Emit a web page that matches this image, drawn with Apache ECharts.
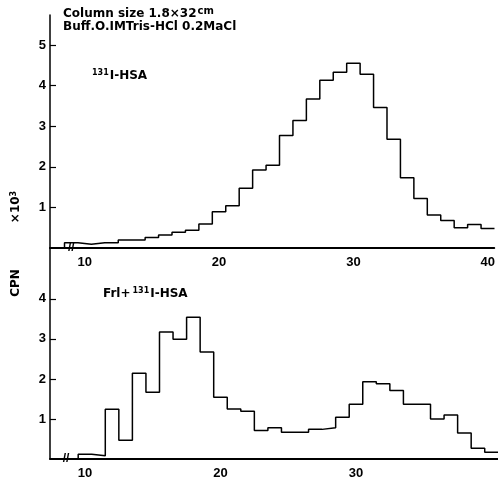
<!DOCTYPE html>
<html>
<head>
<meta charset="utf-8">
<script src="https://cdn.jsdelivr.net/npm/echarts@6/dist/echarts.min.js"></script>
<style>html,body{margin:0;padding:0;background:#fff}#c{width:498px;height:480px}</style>
</head>
<body>
<div id="c"></div>
<script>
// Fraction numbers (bin centres) and counts (×10³ CPN)
const topFractions = [9,10,11,12,13,14,15,16,17,18,19,20,21,22,23,24,25,26,27,28,29,30,31,32,33,34,35,36,37,38,39,40];
const topCounts    = [0.13,0.09,0.13,0.13,0.20,0.20,0.26,0.32,0.39,0.44,0.59,0.89,1.04,1.47,1.92,2.04,2.77,3.14,3.67,4.13,4.33,4.55,4.28,3.46,2.68,1.73,1.22,0.81,0.68,0.50,0.58,0.48];
const bottomFractions = [10,11,12,13,14,15,16,17,18,19,20,21,22,23,24,25,26,27,28,29,30,31,32,33,34,35,36,37,38,39,40];
const bottomCounts    = [0.12,0.08,1.24,0.47,2.14,1.67,3.17,2.99,3.54,2.67,1.54,1.25,1.19,0.71,0.78,0.67,0.67,0.74,0.78,1.04,1.37,1.93,1.88,1.71,1.37,1.37,1.00,1.10,0.65,0.27,0.17];
const topTicks = [1,2,3,4,5];
const bottomTicks = [1,2,3,4];
const topXLabels = [10,20,30,40];
const bottomXLabels = [10,20,30];
const topBreakAt = 9.0;
const bottomBreakAt = 8.6;

function outline(centres, values) {
  const pts = [[centres[0] - 0.5, 0]];
  centres.forEach((c, i) => { pts.push([c - 0.5, values[i]]); pts.push([c + 0.5, values[i]]); });
  return pts;
}

const FONT = '"Liberation Sans", Arial, sans-serif';
const TFONT = '"DejaVu Sans", sans-serif';
const axisLabelStyle = { color: '#000', fontWeight: 'bold', fontSize: 13, fontFamily: FONT };

function xAxis(gridIndex, labels) {
  return {
    type: 'value', gridIndex, min: 7.42, max: 40.48,
    axisLine: { show: true, onZero: false, lineStyle: { color: '#000', width: 2 } },
    axisTick: { show: false },
    splitLine: { show: false },
    axisLabel: Object.assign({ customValues: labels, margin: 8 }, axisLabelStyle)
  };
}
function yAxis(gridIndex, max, ticks) {
  return {
    type: 'value', gridIndex, min: 0, max,
    axisLine: { show: true, lineStyle: { color: '#000', width: 1.5 } },
    axisTick: { show: true, inside: true, length: 6, customValues: ticks, lineStyle: { color: '#000', width: 1.2 } },
    splitLine: { show: false },
    axisLabel: Object.assign({ customValues: ticks, margin: 4 }, axisLabelStyle)
  };
}
function breakMark(x) {
  return {
    symbol: 'rect', symbolSize: [1, 1], itemStyle: { color: 'rgba(0,0,0,0)' },
    label: { show: true, position: 'inside', formatter: '//', color: '#000', fontSize: 12, fontWeight: 'bold', fontFamily: FONT },
    data: [{ coord: [x, 0] }]
  };
}

const chart = echarts.init(document.getElementById('c'), null, { renderer: 'canvas' });
chart.setOption({
  animation: false,
  backgroundColor: '#fff',
  grid: [
    { left: 50, right: 0, top: 15, height: 233 },
    { left: 50, right: 0, top: 248, height: 216 }
  ],
  xAxis: [xAxis(0, topXLabels), xAxis(1, bottomXLabels)],
  yAxis: [yAxis(0, 5.74, topTicks), yAxis(1, 5.27, bottomTicks)],
  series: [
    { type: 'line', xAxisIndex: 0, yAxisIndex: 0, data: outline(topFractions, topCounts), symbol: 'none',
      lineStyle: { color: '#000', width: 1.5 }, clip: true, markPoint: breakMark(topBreakAt) },
    { type: 'line', xAxisIndex: 1, yAxisIndex: 1, data: outline(bottomFractions, bottomCounts), symbol: 'none',
      lineStyle: { color: '#000', width: 1.5 }, clip: true, markPoint: breakMark(bottomBreakAt) }
  ],
  graphic: [
    { type: 'text', left: 63, top: 6, style: { text: 'Column size 1.8×32{s|cm}', font: 'bold 12px ' + TFONT, fill: '#000',
      rich: { s: { fontSize: 10, fontWeight: 'bold', fontFamily: TFONT, padding: [0, 0, 6, 1] } } } },
    { type: 'text', left: 63, top: 21, style: { text: 'Buff.O.IMTris-HCl 0.2MaCl', font: 'bold 12px ' + TFONT, fill: '#000' } },
    { type: 'text', left: 92, top: 69, style: { text: '{s|131}I-HSA', font: 'bold 12px ' + TFONT, fill: '#000',
      rich: { s: { fontSize: 8, fontWeight: 'bold', fontFamily: TFONT, padding: [0, 1, 5, 0] } } } },
    { type: 'text', left: 103, top: 287, style: { text: 'Frl+{s|131}I-HSA', font: 'bold 12px ' + TFONT, fill: '#000',
      rich: { s: { fontSize: 8, fontWeight: 'bold', fontFamily: TFONT, padding: [0, 1, 5, 2] } } } },
    { type: 'text', x: 16, y: 207, rotation: Math.PI / 2, style: { text: '×10{s|3}', font: 'bold 12px ' + TFONT, fill: '#000', align: 'center', verticalAlign: 'middle',
      rich: { s: { fontSize: 8, fontWeight: 'bold', fontFamily: TFONT, padding: [0, 0, 5, 0] } } } },
    { type: 'text', x: 16, y: 283, rotation: Math.PI / 2, style: { text: 'CPN', font: 'bold 12px ' + TFONT, fill: '#000', align: 'center', verticalAlign: 'middle' } }
  ]
});
</script>
</body>
</html>
